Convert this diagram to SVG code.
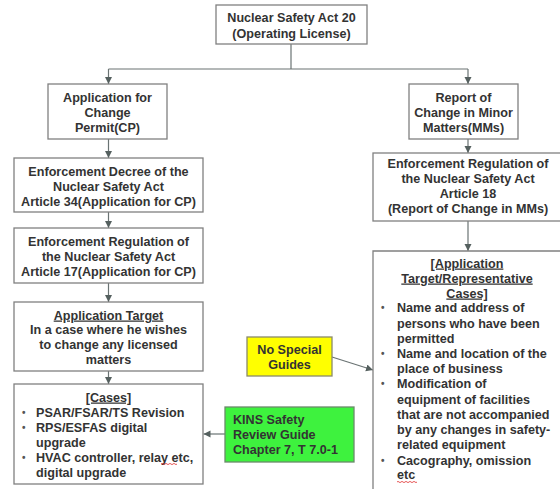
<svg xmlns="http://www.w3.org/2000/svg" width="560" height="489" viewBox="0 0 560 489">
<style>
.box{fill:#ffffff;stroke:#808080;stroke-width:1.3}
.yel{fill:#ffff00;stroke:#8a8a6a;stroke-width:1.3}
.grn{fill:#3ef23e;stroke:#6a8a6a;stroke-width:1.3}
text{font-family:"Liberation Sans",Arial,sans-serif;font-weight:bold;font-size:12.6px;fill:#333333}
.c{text-anchor:middle}
.u{text-decoration:underline}
.b{font-size:10px;fill:#555555}
.con{stroke:#6a7373;stroke-width:1.2;fill:none}
</style>
<defs>
<marker id="ah" markerUnits="userSpaceOnUse" markerWidth="8" markerHeight="8" refX="7" refY="3.5" orient="auto">
<path d="M0,0 L7,3.5 L0,7 z" fill="#55605f"/>
</marker>
</defs>
<rect width="560" height="489" fill="#ffffff"/>
<g id="connectors">
<path class="con" d="M291,44 V69"/>
<path class="con" d="M108.5,69 H468"/>
<path class="con" d="M108.5,69 V84" marker-end="url(#ah)"/>
<path class="con" d="M468,69 V84" marker-end="url(#ah)"/>
<path class="con" d="M108.5,139 V158" marker-end="url(#ah)"/>
<path class="con" d="M108.5,212 V228" marker-end="url(#ah)"/>
<path class="con" d="M108.5,283 V302" marker-end="url(#ah)"/>
<path class="con" d="M108.5,371 V384" marker-end="url(#ah)"/>
<path class="con" d="M468,139 V153" marker-end="url(#ah)"/>
<path class="con" d="M468,221 V251" marker-end="url(#ah)"/>
<path class="con" d="M225,434 H203.5" marker-end="url(#ah)"/>
<path class="con" d="M332,357 L373,370" marker-end="url(#ah)"/>
</g>
<g id="act20">
<rect class="box" x="216" y="5" width="151" height="39"/>
<text class="c" x="291.5" y="21.5">Nuclear Safety Act 20</text>
<text class="c" x="291.5" y="37.5">(Operating License)</text>
</g>
<g id="appcp">
<rect class="box" x="48" y="84" width="119" height="55"/>
<text class="c" x="107.5" y="101.5">Application for</text>
<text class="c" x="107.5" y="116.5">Change</text>
<text class="c" x="107.5" y="132">Permit(CP)</text>
</g>
<g id="reportmm">
<rect class="box" x="409" y="84" width="109" height="55"/>
<text class="c" x="463.5" y="101.5">Report of</text>
<text class="c" x="463.5" y="116.5">Change in Minor</text>
<text class="c" x="463.5" y="132">Matters(MMs)</text>
</g>
<g id="decree34">
<rect class="box" x="14" y="158" width="189" height="54"/>
<text class="c" x="108.5" y="175.5">Enforcement Decree of the</text>
<text class="c" x="108.5" y="190.5">Nuclear Safety Act</text>
<text class="c" x="108.5" y="205.5">Article 34(Application for CP)</text>
</g>
<g id="reg17">
<rect class="box" x="14" y="228" width="189" height="55"/>
<text class="c" x="108.5" y="245.5">Enforcement Regulation of</text>
<text class="c" x="108.5" y="260.5">the Nuclear Safety Act</text>
<text class="c" x="108.5" y="275.5">Article 17(Application for CP)</text>
</g>
<g id="apptarget">
<rect class="box" x="14" y="302" width="189" height="69"/>
<text class="c u" x="108.5" y="319.5">Application Target</text>
<text class="c" x="108.5" y="334">In a case where he wishes</text>
<text class="c" x="108.5" y="348.5">to change any licensed</text>
<text class="c" x="108.5" y="363.5">matters</text>
</g>
<g id="cases">
<rect class="box" x="14" y="384" width="189" height="100"/>
<text class="c u" x="108.5" y="401.5">[Cases]</text>
<text class="b" x="22" y="415.5">•</text><text x="36" y="416.5">PSAR/FSAR/TS Revision</text>
<text class="b" x="22" y="430.5">•</text><text x="36" y="431.5">RPS/ESFAS digital</text>
<text x="36" y="446.5">upgrade</text>
<text class="b" x="22" y="460.5">•</text><text x="36" y="461.5">HVAC controller, relay etc,</text>
<text x="36" y="476.5">digital upgrade</text>
<path d="M161,464 q1,-1.2 2,0 t2,0 t2,0 t2,0 t2,0 t2,0 t2,0 t2,0" stroke="#e03030" stroke-width="0.8" fill="none"/>
</g>
<g id="reg18">
<rect class="box" x="373" y="153" width="190" height="68"/>
<text class="c" x="468" y="167.5">Enforcement Regulation of</text>
<text class="c" x="468" y="182.5">the Nuclear Safety Act</text>
<text class="c" x="468" y="197.5">Article 18</text>
<text class="c" x="468" y="212.5">(Report of Change in MMs)</text>
</g>
<g id="mmcases">
<path class="box" d="M563,251 H373 V492"/>
<text class="c u" x="467" y="267.5">[Application</text>
<text class="c u" x="467" y="282.5">Target/Representative</text>
<text class="c u" x="467" y="297.5">Cases]</text>
<text class="b" x="381" y="311">•</text><text x="397" y="312">Name and address of</text>
<text x="397" y="327.5">persons who have been</text>
<text x="397" y="342.5">permitted</text>
<text class="b" x="381" y="356.5">•</text><text x="397" y="357.5">Name and location of the</text>
<text x="397" y="373">place of business</text>
<text class="b" x="381" y="387">•</text><text x="397" y="388">Modification of</text>
<text x="397" y="403.5">equipment of facilities</text>
<text x="397" y="418.5">that are not accompanied</text>
<text x="397" y="434">by any changes in safety-</text>
<text x="397" y="449">related equipment</text>
<text class="b" x="381" y="463.5">•</text><text x="397" y="464.5">Cacography, omission</text>
<text x="397" y="479">etc</text>
<path d="M397,482 q1,-1.2 2,0 t2,0 t2,0 t2,0 t2,0 t2,0 t2,0 t2,0 t2,0 t2,0" stroke="#e03030" stroke-width="0.8" fill="none"/>
</g>
<g id="nospecial">
<rect class="yel" x="247" y="337" width="85" height="39"/>
<text class="c" x="289.5" y="353.5">No Special</text>
<text class="c" x="289.5" y="368.5">Guides</text>
</g>
<g id="kins">
<rect class="grn" x="225" y="407" width="129" height="55"/>
<text x="233" y="423.5">KINS Safety</text>
<text x="233" y="438.5">Review Guide</text>
<text x="233" y="453.5">Chapter 7, T 7.0-1</text>
</g>
</svg>
